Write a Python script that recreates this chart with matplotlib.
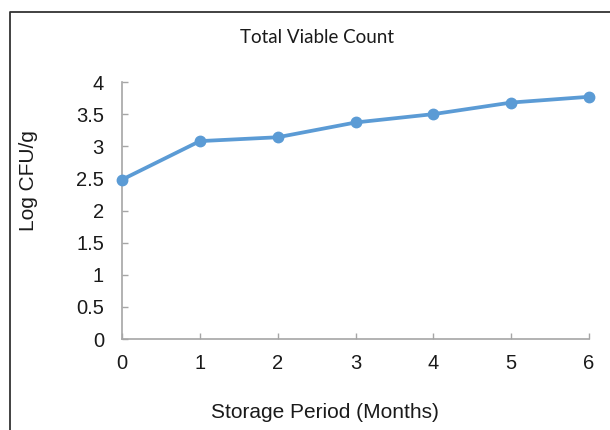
import matplotlib
matplotlib.use("Agg")
import matplotlib.pyplot as plt
from matplotlib.lines import Line2D

# storage period (months) vs total viable count (log CFU/g)
months = [0, 1, 2, 3, 4, 5, 6]
log_cfu = [2.48, 3.08, 3.14, 3.37, 3.50, 3.68, 3.77]
y_ticks = [0, 0.5, 1, 1.5, 2, 2.5, 3, 3.5, 4]
y_tick_labels = ["0", "0.5", "1", "1.5", "2", "2.5", "3", "3.5", "4"]

blue = "#5B9BD5"
axis_grey = "#A6A6A6"
text_col = "#1a1a1a"

plt.rcParams["font.family"] = ["Liberation Sans", "DejaVu Sans"]

fig = plt.figure(figsize=(6.1, 4.3), dpi=100)
ax = fig.add_axes([0.2, 0.2116, 0.7656, 0.5977])

ax.plot(months, log_cfu, color=blue, lw=2.7, marker="o", ms=7.5,
        solid_capstyle="round", solid_joinstyle="round", zorder=3,
        clip_on=False)

ax.set_xlim(0, 6)
ax.set_ylim(0, 4)
ax.set_xticks(months)
ax.set_yticks(y_ticks)
ax.set_yticklabels(y_tick_labels)

for side in ("top", "right"):
    ax.spines[side].set_visible(False)
for side in ("left", "bottom"):
    ax.spines[side].set_color(axis_grey)
    ax.spines[side].set_linewidth(1.2)
ax.tick_params(direction="in", length=4.5, width=1, color=axis_grey,
               labelsize=14.5, labelcolor=text_col)
ax.tick_params(axis="y", pad=13)
ax.tick_params(axis="x", pad=10.5)

fig.text(0.52, 0.9, "Total Viable Count", ha="center", va="baseline",
         fontsize=13.5, family=["Lato", "DejaVu Sans"], color=text_col)
fig.text(0.533, 0.028, "Storage Period (Months)", ha="center",
         va="baseline", fontsize=15, color=text_col)
fig.text(0.046, 0.579, "Log CFU/g", ha="center", va="center", rotation=90,
         fontsize=15, color=text_col)

# outer chart frame (left and top edges visible, rest runs off the image)
fig.add_artist(Line2D([0.0172, 0.0172, 1.0], [0.0, 0.973, 0.973],
                      transform=fig.transFigure, color="#333333", lw=1.3))

fig.savefig("out.png", dpi=100)
